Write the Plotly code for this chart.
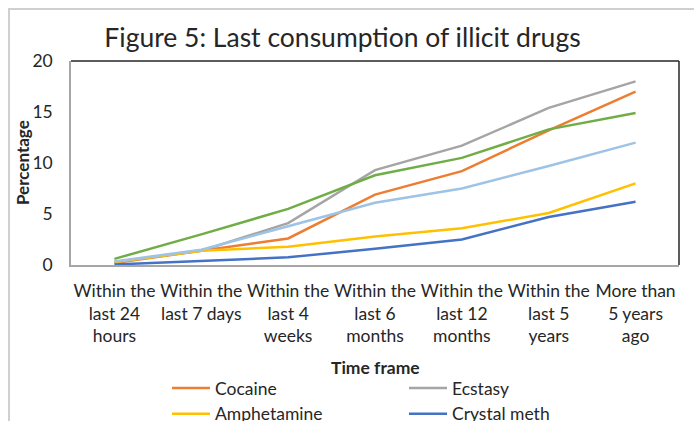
import plotly.graph_objects as go

# Time-frame categories (x axis) and tick labels
time_frames = ["24h", "7d", "4w", "6m", "12m", "5y", "5y+"]
tick_labels = [
    "Within the<br>last 24<br>hours",
    "Within the<br>last 7 days",
    "Within the<br>last 4<br>weeks",
    "Within the<br>last 6<br>months",
    "Within the<br>last 12<br>months",
    "Within the<br>last 5<br>years",
    "More than<br>5 years<br>ago",
]

# Percentage of respondents by time of last consumption
cocaine = [0.2, 1.4, 2.6, 6.9, 9.2, 13.2, 17.0]
ecstasy = [0.3, 1.4, 4.1, 9.3, 11.7, 15.4, 18.0]
amphetamine = [0.3, 1.4, 1.8, 2.8, 3.6, 5.1, 8.0]
crystal_meth = [0.05, 0.4, 0.75, 1.6, 2.5, 4.7, 6.2]
ketamine = [0.6, 3.0, 5.5, 8.8, 10.5, 13.3, 14.9]
lsd = [0.35, 1.5, 3.8, 6.1, 7.5, 9.7, 12.0]

series = [
    ("Cocaine", cocaine, "#ED7D31", True),
    ("Ecstasy", ecstasy, "#A5A5A5", True),
    ("Amphetamine", amphetamine, "#FFC000", True),
    ("Crystal meth", crystal_meth, "#4472C4", True),
    ("Ketamine", ketamine, "#70AD47", False),
    ("LSD", lsd, "#9DC3E6", False),
]

FONT = "Lato, 'Open Sans', sans-serif"
TEXT = "#262626"

fig = go.Figure()
for name, vals, color, in_legend in series:
    fig.add_trace(go.Scatter(
        x=time_frames, y=vals, name=name, mode="lines",
        line=dict(color=color, width=2.5),
        showlegend=in_legend,
    ))

fig.update_layout(
    width=694, height=421,
    margin=dict(l=71, r=15, t=61, b=156, autoexpand=False),
    paper_bgcolor="white", plot_bgcolor="white",
    font=dict(family=FONT, size=17, color=TEXT),
    title=dict(
        text="Figure 5: Last consumption of illicit drugs",
        font=dict(family=FONT, size=26.5, color=TEXT),
        x=342.5 / 694, xref="container", xanchor="center",
        y=1 - 38 / 421, yref="container", yanchor="middle",
    ),
    xaxis=dict(
        type="category", range=[-0.5, 6.5], automargin=False,
        tickmode="array", tickvals=time_frames, ticktext=tick_labels,
        showgrid=False, zeroline=False, ticks="",
        showline=True, linecolor="#A6A6A6", linewidth=1.5,
        ticklabelstandoff=9,
        tickfont=dict(size=17.5, color=TEXT),
    ),
    yaxis=dict(
        range=[0, 20], dtick=5, tick0=0, automargin=False,
        showgrid=False, zeroline=False, ticks="",
        showline=True, linecolor="#A6A6A6", linewidth=1.5,
        ticklabelstandoff=13,
        tickfont=dict(size=17.5, color=TEXT),
    ),
    legend=dict(
        orientation="h", xref="container", yref="container",
        x=167 / 694, xanchor="left", y=1 - 370 / 421, yanchor="top",
        itemwidth=38, entrywidth=184,
        font=dict(size=17.5, color=TEXT),
        bgcolor="rgba(0,0,0,0)",
    ),
    annotations=[
        # axis titles
        dict(text="<b>Time frame</b>", xref="paper", yref="paper",
             x=0.5, y=(265 - 367) / 204, xanchor="center", yanchor="middle",
             showarrow=False, font=dict(size=17.5, color=TEXT)),
        dict(text="<b>Percentage</b>", xref="paper", yref="paper",
             x=(22 - 71) / 608, y=0.5, xanchor="center", yanchor="middle",
             textangle=-90, showarrow=False, font=dict(size=17, color=TEXT)),
    ],
    shapes=[
        # dark top and right edges of the plot frame
        dict(type="line", xref="paper", yref="paper", x0=0, x1=1, y0=1, y1=1,
             line=dict(color="#262626", width=1.5)),
        dict(type="line", xref="paper", yref="paper", x0=1, x1=1, y0=0, y1=1,
             line=dict(color="#262626", width=1.5)),
        # outer chart border
        dict(type="rect", xref="paper", yref="paper",
             x0=(9 - 71) / 608, x1=(710 - 71) / 608,
             y0=(265 - 440) / 204, y1=(265 - 9) / 204,
             line=dict(color="#D0D0D0", width=2), layer="below"),
    ],
)

fig.write_html("out.html")
